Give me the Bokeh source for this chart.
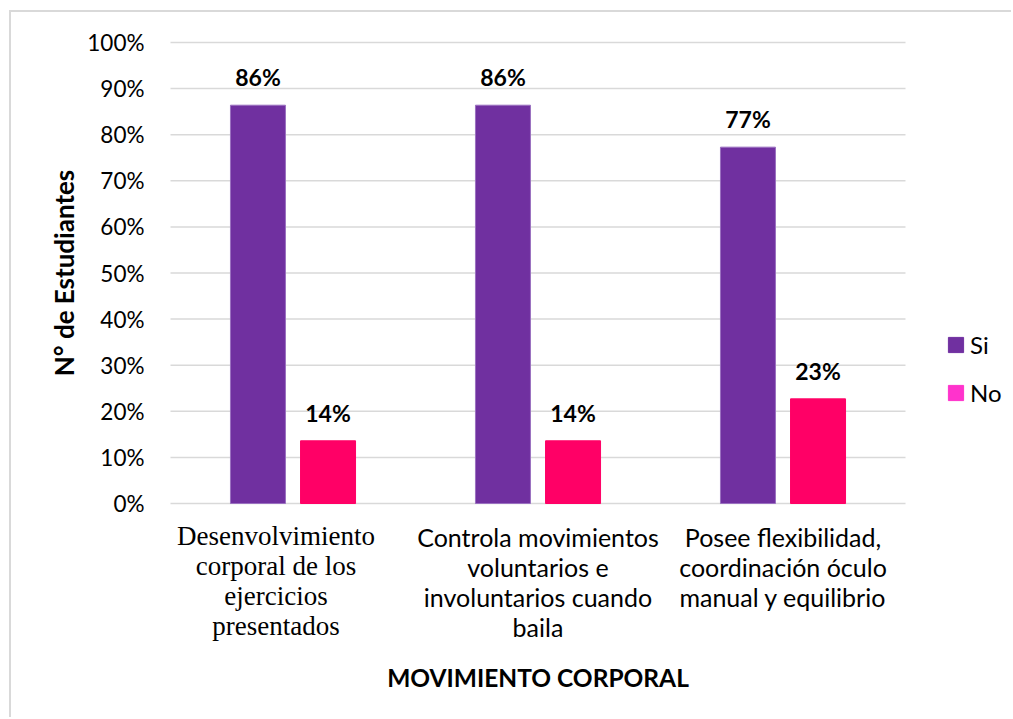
import math
from bokeh.plotting import figure
from bokeh.models import Range1d, Legend, LegendItem, ColumnDataSource
from bokeh.core.properties import value
from bokeh.embed import file_html
from bokeh.resources import INLINE

categories = ["Desenvolvimiento corporal de los ejercicios presentados",
              "Controla movimientos voluntarios e involuntarios cuando baila",
              "Posee flexibilidad, coordinación óculo manual y equilibrio"]
category_lines = [["Desenvolvimiento", "corporal de los", "ejercicios", "presentados"],
                  ["Controla movimientos", "voluntarios e", "involuntarios cuando", "baila"],
                  ["Posee flexibilidad,", "coordinación óculo", "manual y equilibrio"]]
series_names = ["Si", "No"]
si_values = [0.864, 0.864, 0.773]
no_values = [0.136, 0.136, 0.227]
y_ticks = [0.0, 0.1, 0.2, 0.3, 0.4, 0.5, 0.6, 0.7, 0.8, 0.9, 1.0]
y_tick_labels = ["0%", "10%", "20%", "30%", "40%", "50%", "60%", "70%", "80%", "90%", "100%"]
x_title = "MOVIMIENTO CORPORAL"
y_title = "N° de Estudiantes"

SI_COLOR = "#7030A0"
NO_COLOR = "#FF0066"
NO_LEGEND_COLOR = "#FF33CC"
GRID = "#D9D9D9"
SANS = "Lato"
SERIF = "Liberation Serif"

n = len(categories)
idx = list(range(n))
bw = 0.2245   # bar width (category units)
off = 0.143   # dodge of each series from the category centre

bars = ColumnDataSource(dict(
    si_x=[i - off for i in idx], no_x=[i + off for i in idx],
    si=si_values, no=no_values,
    si_lab=[f"{round(v * 100):d}%" for v in si_values],
    no_lab=[f"{round(v * 100):d}%" for v in no_values],
))

# category label lines
lx, ly, ltxt, loff, lxoff, lfont, lsize = [], [], [], [], [], [], []
for i, lines in enumerate(category_lines):
    for k, t in enumerate(lines):
        lx.append(i)
        ly.append(0.0)
        ltxt.append(t)
        if i == 0:
            loff.append(32 + 30 * k)
            lxoff.append(-17)
            lfont.append(SERIF)
            lsize.append("27px")
        else:
            loff.append(33 + 30 * k)
            lxoff.append(0)
            lfont.append(SANS)
            lsize.append("25px")
cat_src = ColumnDataSource(dict(x=lx, y=ly, text=ltxt, yo=loff, xo=lxoff,
                                font=lfont, size=lsize))

# layout constants (pixels): one category = 245 px, 100 % = 461 px
CAT_PX, FULL_PX = 245, 461
W, H = 1002, 707
p = figure(width=W, height=H,
           x_range=Range1d(-0.5 - 159 / CAT_PX, -0.5 + (W - 159) / CAT_PX),
           y_range=Range1d(-(H - 491) / FULL_PX, 491 / FULL_PX),
           output_backend="svg", toolbar_location=None,
           min_border_left=0, min_border_right=0, min_border_top=0,
           min_border_bottom=0)
p.styles = {"border-left": f"2px solid {GRID}", "border-top": f"2px solid {GRID}",
            "margin-left": "9px", "margin-top": "10px"}
p.outline_line_color = None
p.background_fill_color = "white"
p.border_fill_color = "white"
p.xaxis.visible = False
p.yaxis.visible = False
p.xgrid.grid_line_color = None
p.ygrid.grid_line_color = None

# horizontal gridlines over the category span
p.segment(x0=[-0.5] * len(y_ticks), x1=[n - 0.5] * len(y_ticks), y0=y_ticks, y1=y_ticks,
          line_color=GRID, line_width=1.5)

# y tick labels
p.text(x=[-0.5] * len(y_ticks), y=y_ticks, text=y_tick_labels, x_offset=-26,
       text_align="right", text_baseline="middle", text_font=value(SANS),
       text_font_size="22.5px", text_color="black")

# y axis title
p.text(x=[-0.5], y=[0.5], text=[y_title], x_offset=-107, angle=math.pi / 2,
       text_align="center", text_baseline="middle", text_font=value(SANS),
       text_font_style="bold", text_font_size="26px", text_color="black")

p.vbar(x="si_x", top="si", width=bw, source=bars,
       fill_color=SI_COLOR, line_color="#9A70C0", line_width=1)
p.vbar(x="no_x", top="no", width=bw, source=bars,
       fill_color=NO_COLOR, line_color=NO_COLOR, line_width=1)

for xcol, ycol, tcol in (("si_x", "si", "si_lab"), ("no_x", "no", "no_lab")):
    p.text(x=xcol, y=ycol, text=tcol, source=bars,
           text_align="center", text_baseline="middle", y_offset=-28,
           text_font=value(SANS), text_font_style="bold", text_font_size="23px",
           text_color="black")

# category labels under the bars
p.text(x="x", y="y", text="text", source=cat_src, x_offset="xo", y_offset="yo",
       text_align="center", text_baseline="middle", text_font="font",
       text_font_size="size", text_color="black")

# x axis title
p.text(x=[(n - 1) / 2], y=[0.0], text=[x_title], y_offset=174,
       text_align="center", text_baseline="middle", text_font=value(SANS),
       text_font_style="bold", text_font_size="24.5px", text_color="black")

# legend (swatch colours as in the original legend)
nan = float("nan")
r_si = p.vbar(x=[nan], top=[nan], width=0.1, fill_color=SI_COLOR, line_color=SI_COLOR)
r_no = p.vbar(x=[nan], top=[nan], width=0.1, fill_color=NO_LEGEND_COLOR,
              line_color=NO_LEGEND_COLOR)
legend = Legend(items=[LegendItem(label=series_names[0], renderers=[r_si]),
                       LegendItem(label=series_names[1], renderers=[r_no])],
                location=(935, 312), orientation="vertical",
                glyph_width=19, glyph_height=19, label_height=19,
                label_standoff=5, spacing=19, padding=0, margin=0,
                label_text_font=SANS, label_text_font_size="24px",
                label_text_color="black", border_line_color=None,
                background_fill_alpha=0)
p.add_layout(legend, "center")

open("out.html", "w").write(file_html(p, INLINE))
